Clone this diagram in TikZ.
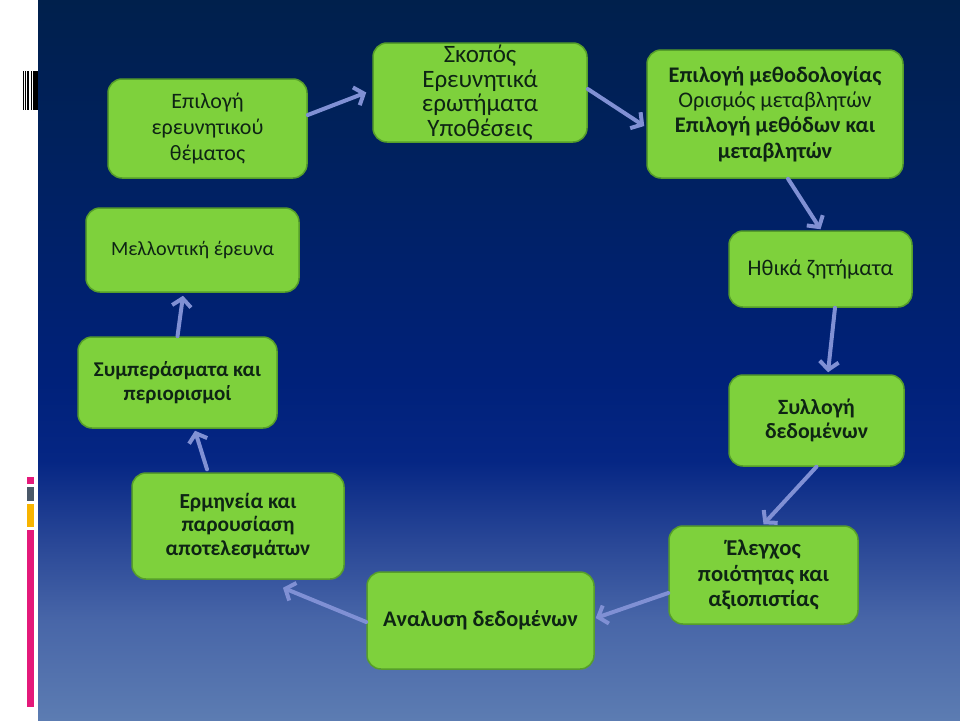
\documentclass[tikz,border=0pt]{standalone}
\usepackage{fontspec}
\setmainfont{Carlito}
\usetikzlibrary{arrows.meta}
\definecolor{boxfill}{RGB}{126,209,60}
\definecolor{boxedge}{RGB}{86,158,42}
\definecolor{txtcol}{RGB}{14,36,20}
\definecolor{arrcol}{RGB}{128,144,212}
\definecolor{bgA}{RGB}{92,124,178}
\definecolor{bgB}{RGB}{72,102,168}
\definecolor{bgC}{RGB}{40,70,150}
\definecolor{bgD}{RGB}{5,38,132}
\definecolor{bgE}{RGB}{0,33,122}
\definecolor{bgF}{RGB}{0,33,100}
\definecolor{bgG}{RGB}{0,32,76}
\definecolor{decpink}{RGB}{228,25,122}
\definecolor{decgray}{RGB}{74,88,104}
\definecolor{decorange}{RGB}{248,180,0}
\pgfdeclareverticalshading{bgshade}{100bp}{color(0bp)=(bgA); color(25bp)=(bgA); color(31.9bp)=(bgB); color(37.5bp)=(bgC); color(43bp)=(bgD); color(48.6bp)=(bgE); color(61.1bp)=(bgF); color(75bp)=(bgG); color(100bp)=(bgG)}
\begin{document}
\begin{tikzpicture}[x=1pt,y=-1pt,
  box/.style={draw=boxedge, line width=1.5pt, fill=boxfill, rounded corners=14pt,
    align=center, text=txtcol, inner sep=0pt},
  conn/.style={draw=arrcol, line width=4pt, line cap=round,
    -{Straight Barb[length=8pt,width=19pt]}}]
\useasboundingbox (0,0) rectangle (960,720);
\fill[white] (0,0) rectangle (960,720);
\shade[shading=bgshade] (38,0) rectangle (960,720);
% barcode decoration
\fill[black] (23,71) rectangle (24,110);
\fill[black] (25.2,71) rectangle (26.4,110);
\fill[black] (27.4,71) rectangle (29.2,110);
\fill[black] (31,71) rectangle (32.4,110);
\fill[black] (33.4,71) rectangle (37.8,110);
% coloured bars
\fill[decpink] (26.7,476.7) rectangle (34.3,484.3);
\fill[decgray] (26.7,487) rectangle (34.3,501.3);
\fill[decorange] (26.7,503.7) rectangle (34.3,527.3);
\fill[decpink] (26.7,529.7) rectangle (34.3,707.3);
% boxes
\node[box, minimum width=199pt, minimum height=99pt, font=\fontsize{22}{26}\selectfont] (b1) at (207.5,128.5) {Επιλογή\\ερευνητικού\\θέματος};
\node[box, minimum width=214pt, minimum height=99pt, font=\fontsize{25}{24.5}\selectfont] (b2) at (480,92.5) {Σκοπός\\Ερευνητικά\\ερωτήματα\\Υποθέσεις};
\node[box, minimum width=256pt, minimum height=128pt, font=\fontsize{22.3}{25.3}\selectfont] (b3) at (775,114) {\textbf{Επιλογή μεθοδολογίας}\\Ορισμός μεταβλητών\\\textbf{Επιλογή μεθόδων και}\\\textbf{μεταβλητών}};
\node[box, minimum width=183pt, minimum height=76pt, font=\fontsize{22.4}{25}\selectfont] (b4) at (820.5,269) {Ηθικά ζητήματα};
\node[box, minimum width=175pt, minimum height=91pt, font=\fontsize{21.8}{24}\selectfont\bfseries] (b9) at (816.5,420.5) {Συλλογή\\δεδομένων};
\node[box, minimum width=189pt, minimum height=98pt, font=\fontsize{22.6}{25.5}\selectfont\bfseries] (b10) at (763.5,575) {Έλεγχος\\ποιότητας και\\αξιοπιστίας};
\node[box, minimum width=227pt, minimum height=97pt, font=\fontsize{22.3}{25}\selectfont\bfseries] (b8) at (480.5,620.5) {Αναλυση δεδομένων};
\node[box, minimum width=212pt, minimum height=106pt, font=\fontsize{21.4}{23.5}\selectfont\bfseries] (b7) at (238,526) {Ερμηνεία και\\παρουσίαση\\αποτελεσμάτων};
\node[box, minimum width=199pt, minimum height=91pt, font=\fontsize{21}{24}\selectfont\bfseries] (b6) at (177.5,382.5) {Συμπεράσματα και\\περιορισμοί};
\node[box, minimum width=213pt, minimum height=84pt, font=\fontsize{20.2}{24}\selectfont] (b5) at (192.5,250) {Μελλοντική έρευνα};
% connectors
\draw[conn] ([yshift=13.5pt]b1.east) -- ([xshift=-6pt]b2.west);
\draw[conn] ([yshift=3.5pt]b2.east) -- ([xshift=-2pt,yshift=-12pt]b3.west);
\draw[conn] ([xshift=13pt]b3.south) -- ([yshift=1pt]b4.north);
\draw[conn] ([xshift=14.5pt]b4.south) -- ([xshift=11.5pt,yshift=2pt]b9.north);
\draw[conn] (b9.south) -- ([yshift=1pt]b10.north);
\draw[conn] ([yshift=-18pt]b10.west) -- ([xshift=1pt,yshift=2.5pt]b8.east);
\draw[conn] ([yshift=-1.5pt]b8.west) -- ([xshift=45pt,yshift=-8pt]b7.south);
\draw[conn] ([xshift=-31pt,yshift=3pt]b7.north) -- ([xshift=17.5pt,yshift=-2pt]b6.south);
\draw[conn] (b6.north) -- ([xshift=-9.5pt,yshift=-3pt]b5.south);
\end{tikzpicture}
\end{document}
